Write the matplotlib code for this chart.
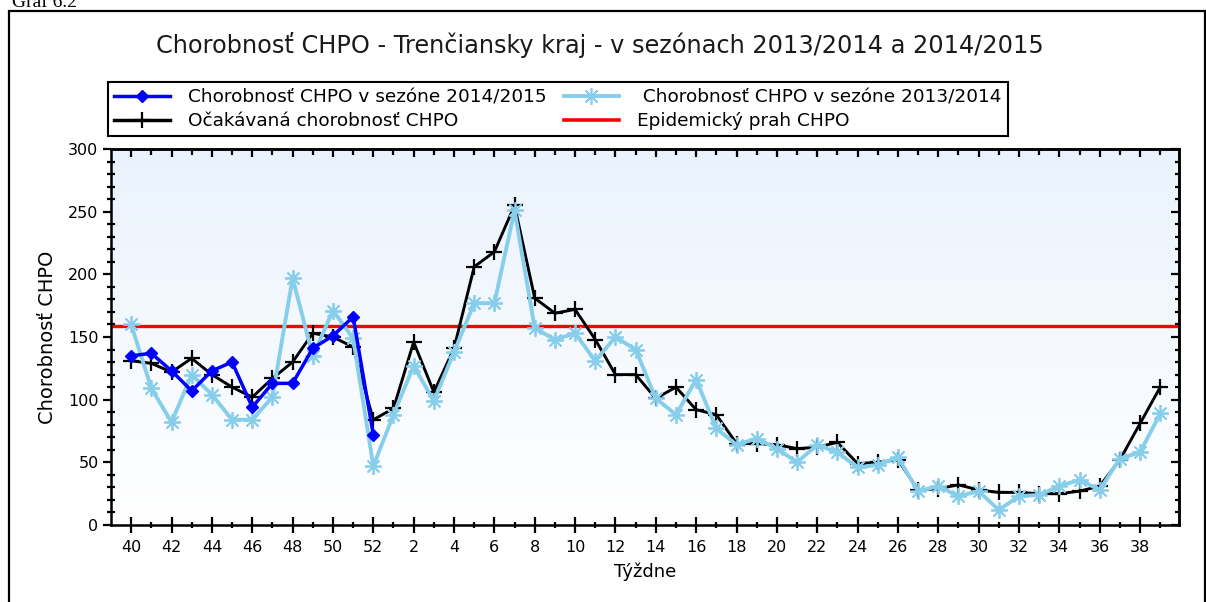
import numpy as np
import matplotlib
matplotlib.use("Agg")
import matplotlib.pyplot as plt
from matplotlib.patches import Rectangle
from matplotlib.lines import Line2D
from matplotlib.ticker import FixedLocator, MultipleLocator, NullFormatter

# ---------- Data ----------
weeks = list(range(40, 53)) + list(range(1, 40))

season_1415 = [135, 137, 123, 107, 123, 130, 94, 113, 113, 141, 151, 166, 72]

season_1314 = [160, 109, 82, 120, 104, 84, 84, 102, 197, 135, 171, 149, 47,
               88, 127, 99, 138, 177, 177, 251, 157, 148, 153, 131, 150, 140,
               101, 88, 116, 77, 64, 69, 61, 50, 64, 58, 46, 48, 54, 27,
               31, 23, 27, 12, 23, 24, 31, 36, 28, 53, 58, 89]

expected = [131, 129, 122, 133, 120, 110, 102, 117, 130, 153, 150, 142, 84,
            93, 146, 106, 141, 206, 218, 255, 181, 169, 172, 148, 120, 120,
            101, 110, 92, 88, 65, 65, 64, 61, 62, 66, 49, 50, 52, 28,
            29, 32, 28, 26, 26, 25, 25, 27, 31, 52, 81, 110]

threshold = 159

title = "Chorobnosť CHPO - Trenčiansky kraj - v sezónach 2013/2014 a 2014/2015"
labels = ["Chorobnosť CHPO v sezóne 2014/2015",
          "Očakávaná chorobnosť CHPO",
          " Chorobnosť CHPO v sezóne 2013/2014",
          "Epidemický prah CHPO"]

BLUE = "#0000ff"
SKY = "#87ceeb"
RED = "#ff0000"

# ---------- Figure ----------
W, H = 1206, 602
fig = plt.figure(figsize=(W / 100, H / 100), dpi=100)
fig.patch.set_facecolor("white")

# outer frame (bottom runs off the page)
fig.patches.append(Rectangle((9 / W, -0.05), (1205 - 9) / W, 1.05 - 11 / H,
                             transform=fig.transFigure, fill=False,
                             edgecolor="black", lw=1.6, clip_on=False))
fig.text(12 / W, 1 - 7 / H, "Graf 6.2", family="Liberation Serif",
         fontsize=14, va="baseline", ha="left")

ax = fig.add_axes([111 / W, 77 / H, (1179 - 111) / W, (525 - 149) / H])

x = np.arange(len(weeks))
xmin, xmax = -1, 51.93

# background gradient (light blue at top -> white at bottom)
grad = np.linspace(0, 1, 256).reshape(-1, 1)
top_c = np.array([0.918, 0.952, 0.992])
bot_c = np.array([1.0, 1.0, 1.0])
img = top_c + (bot_c - top_c) * grad
ax.imshow(img.reshape(256, 1, 3), extent=[xmin, xmax, 0, 300],
          aspect="auto", zorder=0, origin="upper")
ax.set_xlim(xmin, xmax)
ax.set_ylim(0, 300)

ax.axhline(threshold, color=RED, lw=2.4, zorder=2)
ax.plot(x, expected, color="black", lw=2.1, marker="+", ms=12, mew=1.6,
        zorder=3)
ax.plot(x, season_1314, color=SKY, lw=2.8, marker=(8, 2, 0), ms=12,
        mew=1.3, zorder=4)
ax.plot(x[:len(season_1415)], season_1415, color=BLUE, lw=2.5,
        marker="D", ms=6.5, zorder=5)

# ticks
major = list(range(0, len(weeks), 2))
minor = list(range(1, len(weeks), 2))
ax.xaxis.set_major_locator(FixedLocator(major))
ax.xaxis.set_minor_locator(FixedLocator(minor))
ax.set_xticklabels([str(weeks[i]) for i in major])
ax.yaxis.set_major_locator(MultipleLocator(50))
ax.yaxis.set_minor_locator(MultipleLocator(10))

ax.tick_params(axis="x", which="major", direction="inout", length=11,
               width=1.6, labelsize=11.5, pad=5)
ax.tick_params(axis="x", which="minor", direction="inout", length=5,
               width=1.6)
ax.tick_params(axis="y", which="major", direction="out", length=6,
               width=1.6, labelsize=11.5, pad=3)
ax.tick_params(axis="y", which="minor", direction="inout", length=6,
               width=1.6)
for sp in ax.spines.values():
    sp.set_linewidth(1.8)

# inward ticks on the top and right edges
top = ax.secondary_xaxis("top")
top.xaxis.set_major_locator(FixedLocator(major))
top.xaxis.set_minor_locator(FixedLocator(minor))
top.xaxis.set_major_formatter(NullFormatter())
top.tick_params(which="major", direction="in", length=6, width=1.6)
top.tick_params(which="minor", direction="in", length=4, width=1.6)
top.spines["top"].set_linewidth(1.8)

right = ax.secondary_yaxis("right")
right.yaxis.set_major_locator(MultipleLocator(50))
right.yaxis.set_minor_locator(MultipleLocator(10))
right.yaxis.set_major_formatter(NullFormatter())
right.tick_params(which="major", direction="in", length=6, width=1.6)
right.tick_params(which="minor", direction="in", length=3, width=1.6)
right.spines["right"].set_linewidth(1.8)

ax.set_xlabel("Týždne", fontsize=13, labelpad=6)
ax.set_ylabel("Chorobnosť CHPO", fontsize=14, labelpad=8)

fig.text(600 / W, 1 - 45 / H, title, ha="center", va="center",
         fontsize=17.3, color="#1a1a1a")

handles = [
    Line2D([], [], color=BLUE, lw=2.5, marker="D", ms=6),
    Line2D([], [], color="black", lw=2.5, marker="+", ms=12, mew=1.6),
    Line2D([], [], color=SKY, lw=2.8, marker=(8, 2, 0), ms=12, mew=1.2),
    Line2D([], [], color=RED, lw=2.6),
]
leg = fig.legend(handles, labels, ncol=2, loc="upper left",
                 bbox_to_anchor=(108 / W, 1 - 82 / H),
                 fontsize=13.3, frameon=True, fancybox=False,
                 borderpad=0.35, labelspacing=0.3, handlelength=3.0,
                 handletextpad=1.0, columnspacing=0.9, borderaxespad=0)
leg.get_frame().set_edgecolor("black")
leg.get_frame().set_linewidth(1.5)
leg.get_frame().set_alpha(1)

fig.savefig("out.png", dpi=100)
